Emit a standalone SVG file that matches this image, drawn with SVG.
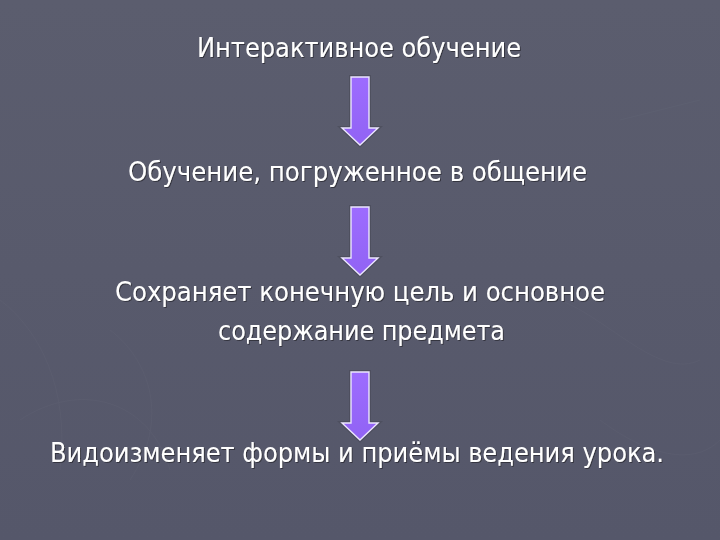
<svg xmlns="http://www.w3.org/2000/svg" xmlns:xlink="http://www.w3.org/1999/xlink" width="720" height="540" viewBox="0 0 720 540">
  <defs>
    <linearGradient id="bg" x1="0" y1="0" x2="0" y2="1">
      <stop offset="0" stop-color="#5b5d6e"/>
      <stop offset="1" stop-color="#55576a"/>
    </linearGradient>
    <linearGradient id="arrowFill" x1="0" y1="0" x2="0" y2="1">
      <stop offset="0" stop-color="#9d6cff"/>
      <stop offset="1" stop-color="#9163f4"/>
    </linearGradient>
    <filter id="shadow" x="-5%" y="-20%" width="110%" height="140%">
      <feDropShadow dx="1" dy="1" stdDeviation="0.6" flood-color="#2a2b35" flood-opacity="0.8"/>
    </filter>
    <path id="arrow" d="M351,0 H369 V51 H378 L360,68 L342,51 H351 Z"/>
    <style>
      .label { font-family: Tahoma, "DejaVu Sans Condensed", "DejaVu Sans", sans-serif; font-size: 26px; fill: #ffffff; text-anchor: middle; }
      .arr { fill: url(#arrowFill); stroke: #ece6ff; stroke-width: 1.4; stroke-linejoin: miter; }
      .arrShadow { fill: none; stroke: #474957; stroke-width: 4; opacity: 0.6; }
    </style>
  </defs>

  <rect x="0" y="0" width="720" height="540" fill="url(#bg)"/>

  <!-- faint background pattern -->
  <g fill="none" stroke="#6a6c7c" stroke-width="1" opacity="0.2">
    <path d="M0,300 C40,330 70,390 60,470"/>
    <path d="M20,420 C80,380 150,400 170,470"/>
    <path d="M110,330 C150,360 170,420 130,480"/>
    <path d="M560,300 C610,320 660,380 700,360"/>
    <path d="M600,420 C640,450 690,470 720,440"/>
    <path d="M620,120 L700,100"/>
  </g>

  <g id="connectors">
    <g id="arrow1" transform="translate(0,77)">
      <use xlink:href="#arrow" class="arrShadow"/>
      <use xlink:href="#arrow" class="arr"/>
    </g>
    <g id="arrow2" transform="translate(0,207)">
      <use xlink:href="#arrow" class="arrShadow"/>
      <use xlink:href="#arrow" class="arr"/>
    </g>
    <g id="arrow3" transform="translate(0,372)">
      <use xlink:href="#arrow" class="arrShadow"/>
      <use xlink:href="#arrow" class="arr"/>
    </g>
  </g>

  <g id="node1" filter="url(#shadow)">
    <text class="label" x="359" y="57" textLength="324" lengthAdjust="spacingAndGlyphs">Интерактивное обучение</text>
  </g>
  <g id="node2" filter="url(#shadow)">
    <text class="label" x="357.5" y="181" textLength="459" lengthAdjust="spacingAndGlyphs">Обучение, погруженное в общение</text>
  </g>
  <g id="node3" filter="url(#shadow)">
    <text class="label" x="360" y="301" textLength="490" lengthAdjust="spacingAndGlyphs">Сохраняет конечную цель и основное</text>
    <text class="label" x="361.5" y="340" textLength="287" lengthAdjust="spacingAndGlyphs">содержание предмета</text>
  </g>
  <g id="node4" filter="url(#shadow)">
    <text class="label" x="357" y="462" textLength="614" lengthAdjust="spacingAndGlyphs">Видоизменяет формы и приёмы ведения урока.</text>
  </g>
</svg>
